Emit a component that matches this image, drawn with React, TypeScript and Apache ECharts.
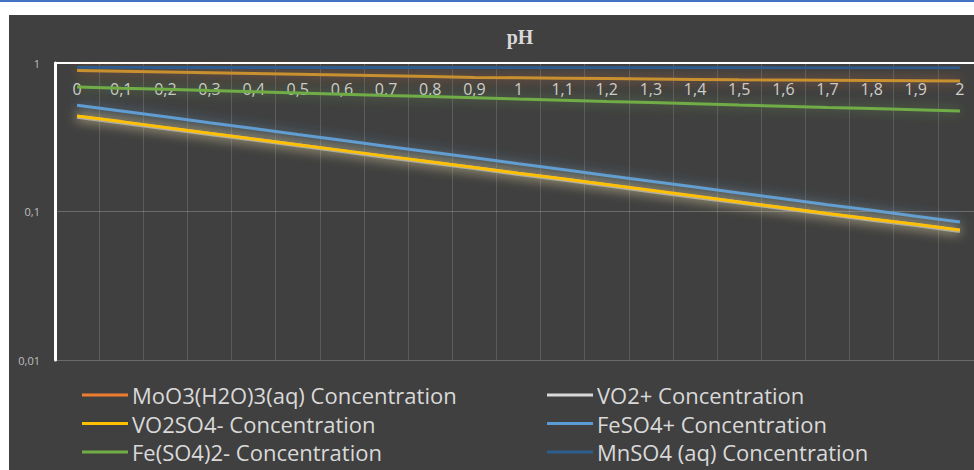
import React, { useEffect, useRef } from "react";
import * as echarts from "echarts";

const categories = ["0", "0,1", "0,2", "0,3", "0,4", "0,5", "0,6", "0,7", "0,8", "0,9", "1", "1,1", "1,2", "1,3", "1,4", "1,5", "1,6", "1,7", "1,8", "1,9", "2"];

const moo3 = [0.89, 0.88, 0.87, 0.86, 0.85, 0.84, 0.83, 0.82, 0.81, 0.80, 0.795, 0.79, 0.785, 0.78, 0.775, 0.77, 0.767, 0.764, 0.761, 0.758, 0.755];
const vo2 = [0.435, 0.398, 0.364, 0.333, 0.305, 0.279, 0.255, 0.233, 0.214, 0.196, 0.179, 0.164, 0.15, 0.137, 0.125, 0.115, 0.105, 0.096, 0.088, 0.081, 0.074];
const vo2so4 = [0.44, 0.403, 0.368, 0.337, 0.308, 0.282, 0.258, 0.236, 0.216, 0.198, 0.181, 0.166, 0.152, 0.139, 0.127, 0.116, 0.106, 0.097, 0.089, 0.082, 0.075];
const feso4 = [0.52, 0.475, 0.434, 0.396, 0.362, 0.33, 0.302, 0.275, 0.252, 0.23, 0.21, 0.192, 0.175, 0.16, 0.146, 0.133, 0.122, 0.111, 0.102, 0.093, 0.085];
const feso42 = [0.69, 0.677, 0.665, 0.652, 0.64, 0.628, 0.617, 0.605, 0.594, 0.583, 0.572, 0.562, 0.551, 0.541, 0.531, 0.521, 0.512, 0.502, 0.493, 0.484, 0.475];
const mnso4 = [0.935, 0.935, 0.934, 0.934, 0.933, 0.933, 0.932, 0.932, 0.931, 0.931, 0.93, 0.93, 0.929, 0.929, 0.928, 0.928, 0.927, 0.927, 0.926, 0.926, 0.925];

const seriesNames = [
  "MoO3(H2O)3(aq) Concentration",
  "VO2+ Concentration",
  "VO2SO4- Concentration",
  "FeSO4+ Concentration",
  "Fe(SO4)2- Concentration",
  "MnSO4 (aq) Concentration",
];
const seriesData = [moo3, vo2, vo2so4, feso4, feso42, mnso4];
const seriesColors = ["#c8902e", "#a5a5a5", "#ffc000", "#5b9bd5", "#70ad47", "#2e5c8e"];
const legendColors = ["#ed7d31", "#d9d9d9", "#ffc000", "#5b9bd5", "#70ad47", "#2e5c8e"];
const glowColors = [
  "rgba(237,125,49,0.6)",
  "rgba(230,230,200,0.7)",
  "rgba(255,220,120,0.7)",
  "rgba(91,155,213,0.6)",
  "rgba(112,173,71,0.6)",
  "rgba(46,92,142,0.6)",
];
const drawOrder = [0, 5, 4, 1, 3, 2];

export default function App() {
  const ref = useRef<HTMLDivElement>(null);
  useEffect(() => {
    if (!ref.current) return;
    const chart = echarts.init(ref.current, undefined, { renderer: "svg" });
    const series = drawOrder.map((i, k) => ({
      name: seriesNames[i],
      type: "line",
      data: seriesData[i],
      symbol: "none",
      z: 3 + k,
      lineStyle: {
        color: seriesColors[i],
        width: i === 1 ? 4 : 3,
        shadowColor: glowColors[i],
        shadowBlur: 12,
      },
      itemStyle: { color: seriesColors[i] },
    }));
    const legendCommon = {
      orient: "vertical",
      itemWidth: 46,
      itemHeight: 3,
      itemGap: 6.5,
      padding: 0,
      height: 90,
      icon: "rect",
      textStyle: { color: "#d9d9d9", fontSize: 22, fontFamily: "Open Sans", padding: [0, 0, 0, -1] },
    };
    chart.setOption({
      animation: false,
      backgroundColor: "#ffffff",
      graphic: [
        { type: "rect", z: -10, shape: { x: 0, y: 0, width: 974, height: 2 }, style: { fill: "#4472c4" } },
        { type: "rect", z: -10, shape: { x: 9, y: 15, width: 965, height: 455 }, style: { fill: "#404040" } },
      ],
      title: {
        text: "pH",
        left: 515,
        top: 22,
        textAlign: "center",
        textStyle: { color: "#d9d9d9", fontSize: 20, fontWeight: "bold", fontFamily: "Liberation Serif" },
      },
      legend: [
        {
          ...legendCommon,
          left: 82,
          top: 384,
          data: [0, 2, 4].map((j) => ({ name: seriesNames[j], itemStyle: { color: legendColors[j] } })),
        },
        {
          ...legendCommon,
          left: 547,
          top: 384,
          data: [1, 3, 5].map((j) => ({ name: seriesNames[j], itemStyle: { color: legendColors[j] } })),
        },
      ],
      grid: { left: 55, top: 63, width: 927, height: 297, outerBoundsMode: "none", containLabel: false },
      xAxis: {
        type: "category",
        data: categories,
        position: "top",
        boundaryGap: true,
        axisLine: { lineStyle: { color: "#ffffff", width: 2 } },
        axisTick: { show: false },
        axisLabel: { inside: true, margin: 18, color: "#d0d0d0", fontSize: 16, fontFamily: "Open Sans", interval: 0 },
        splitLine: { show: true, interval: 0, lineStyle: { color: "rgba(255,255,255,0.14)", width: 1 } },
      },
      yAxis: {
        type: "log",
        logBase: 10,
        min: 0.01,
        max: 1,
        axisLine: { show: true, lineStyle: { color: "#ffffff", width: 3 } },
        axisTick: { show: false },
        axisLabel: {
          color: "#bfbfbf",
          fontSize: 11,
          fontFamily: "Open Sans",
          margin: 15,
          formatter: (v: number) => String(Number(v.toPrecision(3))).replace(".", ","),
        },
        splitLine: { show: true, lineStyle: { color: "rgba(255,255,255,0.22)", width: 1 } },
      },
      series,
    });
    return () => chart.dispose();
  }, []);
  return (
    <div style={{ position: "fixed", left: 0, top: 0, width: 974, height: 470 }}>
      <div ref={ref} style={{ width: 974, height: 470 }} />
    </div>
  );
}
